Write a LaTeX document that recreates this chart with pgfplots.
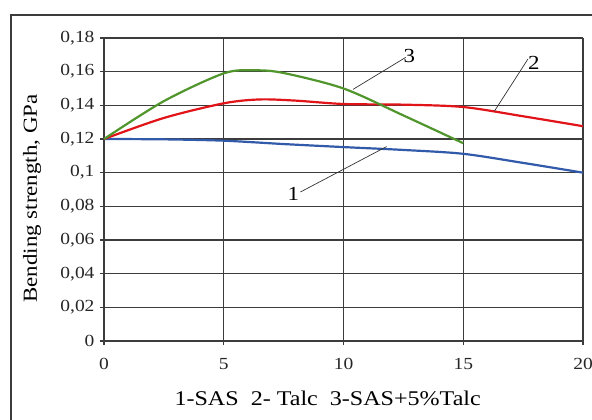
\documentclass[border=0pt]{standalone}
\usepackage{pgfplots}
\pgfplotsset{compat=1.18}
\usepackage{fontspec}
\setmainfont{Liberation Serif}[FakeStretch=1.15]
\definecolor{cblue}{RGB}{50,90,170}
\definecolor{cred}{RGB}{225,20,25}
\definecolor{cgreen}{RGB}{80,150,45}
\definecolor{cgrid}{RGB}{60,60,60}
\begin{document}
\begin{tikzpicture}[x=1bp,y=1bp]
\path[use as bounding box] (-104,-78) rectangle (488,341);
\draw[line width=2bp,cgrid] (-93,-80) -- (-93,326) -- (490,326);
\begin{axis}[
  at={(0,0)}, anchor=south west,
  scale only axis, width=479bp, height=303bp,
  xmin=0, xmax=20, ymin=0, ymax=0.18,
  xtick={0,5,10,15,20}, ytick={0,0.02,...,0.18},
  grid=major,
  major grid style={cgrid,line width=1.3bp},
  axis line style={cgrid,line width=1.3bp},
  tick style={cgrid,line width=1.3bp},
  tick align=outside, major tick length=4bp,
  axis x line*=bottom, axis y line*=left,
  scaled y ticks=false,
  /pgf/number format/fixed,
  /pgf/number format/use comma,
  /pgf/number format/precision=2,
  /pgf/number format/assume math mode=true,
  ticklabel style={font=\fontsize{17}{19}\selectfont, text=black!85},
  xticklabel style={yshift=-10bp},
  yticklabel style={xshift=-2bp},
  xlabel={1-SAS\ \ 2- Talc\ \ 3-SAS+5\%Talc},
  ylabel={Bending strength, GPa},
  label style={font=\fontsize{21}{23}\selectfont},
  xlabel style={at={(axis description cs:0.467,0)}, anchor=center, yshift=-57bp},
  ylabel style={at={(axis description cs:-0.150,0.47)}, anchor=center, font=\fontsize{20}{22}\selectfont},
  clip=false,
]
\addplot[cblue, line width=2.2bp, smooth, tension=0.5] coordinates {
(0,0.12)(2.5,0.1198)(5,0.119)(7.5,0.117)(10,0.1152)(12.5,0.1135)(15,0.1112)(17.5,0.1058)(20,0.1)};
\addplot[cred, line width=2.2bp, smooth, tension=0.5] coordinates {
(0,0.12)(2.5,0.1325)(5,0.1412)(6.5,0.1435)(8,0.1428)(10,0.1408)(12.5,0.1404)(15,0.139)(17.5,0.1335)(20,0.1276)};
\addplot[cgreen, line width=2.2bp, smooth, tension=0.5] coordinates {
(0,0.12)(2.5,0.1425)(5,0.159)(6.3,0.1608)(7.5,0.1592)(10,0.150)(12.5,0.134)(15,0.1175)};
\draw[black!80, line width=0.7bp] (axis cs:12.6,0.1685) -- (axis cs:10.4,0.1495);
\node[font=\fontsize{20}{22}\selectfont, anchor=south west, inner sep=0pt] at (axis cs:12.5,0.165) {3};
\draw[black!80, line width=0.7bp] (axis cs:17.7,0.1675) -- (axis cs:16.3,0.1365);
\node[font=\fontsize{20}{22}\selectfont, anchor=south west, inner sep=0pt] at (axis cs:17.7,0.161) {2};
\draw[black!80, line width=0.7bp] (axis cs:8.2,0.0885) -- (axis cs:11.8,0.1155);
\node[font=\fontsize{20}{22}\selectfont, anchor=east, inner sep=1pt] at (axis cs:8.2,0.0875) {1};
\end{axis}
\end{tikzpicture}
\end{document}
